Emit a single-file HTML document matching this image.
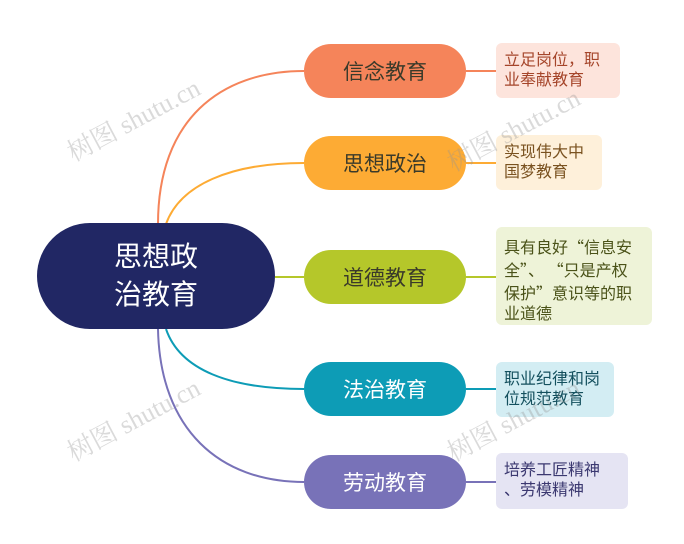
<!DOCTYPE html>
<html><head><meta charset="utf-8"><style>
body{margin:0;background:#fff;width:684px;height:544px;overflow:hidden;position:relative;font-family:"Liberation Sans","Noto Sans CJK SC",sans-serif}
.n{position:absolute;left:304px;width:162px;height:54px;border-radius:27px;color:#3a3a2a;font-size:21px;display:flex;align-items:center;justify-content:center}
.d{position:absolute;left:496px;border-radius:6px;font-size:16px;line-height:20px;padding:8px 8px;box-sizing:border-box;white-space:nowrap}
.q{font-family:"Noto Sans CJK SC",sans-serif}
.w{position:absolute;color:rgba(150,150,150,.35);font-family:"Liberation Serif","Noto Serif CJK SC",serif;font-size:26px;transform:rotate(-28deg);white-space:nowrap}
</style></head><body>
<svg width="684" height="544" style="position:absolute;left:0;top:0">
<g fill="none" stroke-width="2">
<path d="M158 224 C158 120 220 71 304 71" stroke="#f5845a"/>
<path d="M166 224 C180 185 230 163 304 163" stroke="#fdab34"/>
<path d="M275 277 L304 277" stroke="#b5c72a"/>
<path d="M166 329 C180 370 230 389 304 389" stroke="#0d9cb6"/>
<path d="M158 329 C160 430 220 482 304 482" stroke="#7872b8"/>
<path d="M466 71 L496 71" stroke="#f5845a"/>
<path d="M466 163 L496 163" stroke="#fdab34"/>
<path d="M466 277 L496 277" stroke="#b5c72a"/>
<path d="M466 389 L496 389" stroke="#0d9cb6"/>
<path d="M466 482 L496 482" stroke="#7872b8"/>
</g></svg>
<div style="position:absolute;left:37px;top:223px;width:238px;height:106px;border-radius:53px;background:#212764;color:#fff;font-size:28px;line-height:38px;display:flex;align-items:center;justify-content:center;text-align:center">思想政<br>治教育</div>
<div class="n" style="top:44px;background:#f5845a">信念教育</div>
<div class="n" style="top:136px;background:#fdab34">思想政治</div>
<div class="n" style="top:250px;background:#b5c72a">道德教育</div>
<div class="n" style="top:362px;background:#0d9cb6;color:#fff">法治教育</div>
<div class="n" style="top:455px;background:#7872b8;color:#fff">劳动教育</div>
<div class="d" style="top:43px;width:124px;height:55px;background:#fde4dc;color:#a5452a">立足岗位，职<br>业奉献教育</div>
<div class="d" style="top:135px;width:106px;height:55px;background:#fef0da;color:#7a5220">实现伟大中<br>国梦教育</div>
<div class="d" style="top:227px;width:156px;height:98px;background:#eef3d8;color:#4a5218;padding-top:9px">具有良好<span class="q">“</span>信息安<br>全<span class="q">”、 “</span>只是产权<br>保护<span class="q">”</span>意识等的职<br>业道德</div>
<div class="d" style="top:362px;width:118px;height:55px;background:#d3edf3;color:#14505e">职业纪律和岗<br>位规范教育</div>
<div class="d" style="top:453px;width:132px;height:56px;background:#e5e4f3;color:#3b3870">培养工匠精神<br>、劳模精神</div>
<div class="w" style="left:60px;top:100px">树图 shutu.cn</div>
<div class="w" style="left:440px;top:110px">树图 shutu.cn</div>
<div class="w" style="left:60px;top:400px">树图 shutu.cn</div>
<div class="w" style="left:440px;top:400px">树图 shutu.cn</div>
</body></html>
